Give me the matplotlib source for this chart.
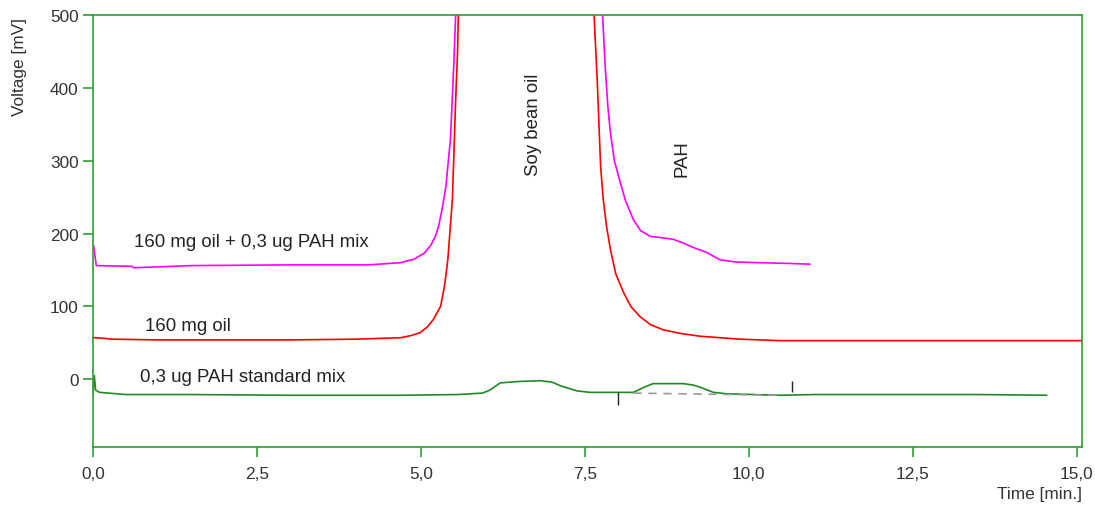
import matplotlib
matplotlib.use("Agg")
import matplotlib.pyplot as plt

plt.rcParams["font.family"] = ["Liberation Sans", "DejaVu Sans"]

# --- data ---
mix_t = [0.0, 0.01, 0.05, 0.6, 0.62, 1.5, 3.0, 4.2, 4.69, 4.9, 5.05, 5.15, 5.22, 5.27, 5.33, 5.38, 5.45, 5.50, 5.53, 5.6,
         7.7, 7.77, 7.81, 7.85, 7.89, 7.95, 8.04, 8.12, 8.24, 8.35, 8.5, 8.7, 8.85, 9.0, 9.15, 9.36, 9.56, 9.8, 10.17, 10.6, 10.93]
mix_v = [183, 183, 156, 155, 153, 156, 157, 157, 160, 165, 173, 184, 196, 210, 237, 264, 329, 429, 500, 900,
         900, 500, 429, 375, 338, 300, 270, 245, 219, 204, 196, 194, 192, 187, 181, 174, 164, 161, 160, 159, 158]

oil_t = [0.0, 0.05, 0.3, 1.0, 2.0, 3.0, 4.0, 4.69, 4.85, 4.99, 5.1, 5.19, 5.30, 5.36, 5.41, 5.48, 5.53, 5.56, 5.57, 5.6,
         7.6, 7.64, 7.69, 7.74, 7.78, 7.83, 7.89, 7.97, 8.09, 8.2, 8.34, 8.5, 8.69, 8.95, 9.26, 9.87, 10.48, 12.0, 15.08]
oil_v = [57, 57, 55, 54, 54, 54, 55, 57, 60, 64, 72, 82, 100, 128, 164, 247, 384, 452, 500, 900,
         900, 500, 407, 292, 247, 210, 178, 145, 119, 100, 86, 75, 68, 63, 59, 55, 53, 53, 53]

std_t = [0.0, 0.02, 0.04, 0.1, 0.5, 1.5, 3.0, 4.69, 5.56, 5.94, 6.05, 6.21, 6.5, 6.82, 7.0, 7.13, 7.38, 7.58, 8.24,
         8.4, 8.54, 9.0, 9.15, 9.26, 9.46, 9.67, 10.48, 11.0, 12.0, 13.5, 14.54]
std_v = [-20, 5, -15, -18, -21, -21, -22, -22, -21, -19, -15, -5, -3, -2, -4, -9, -16, -18, -18,
         -11, -6, -6, -8, -11, -18, -20, -22, -21, -21, -21, -22]

base_t = [8.24, 10.52]
base_v = [-19, -22]
marker_t = [8.0, 10.66]
marker_lo = [-35, -18]
marker_hi = [-18, -2]

labels = ["160 mg oil + 0,3 ug PAH mix", "160 mg oil", "0,3 ug PAH standard mix"]
label_pos = [(0.62, 189), (0.8, 74), (0.72, 4)]
peak_labels = ["Soy bean oil", "PAH"]
peak_pos = [(6.72, 351), (8.98, 304)]

x_ticks = [0.0, 2.5, 5.0, 7.5, 10.0, 12.5, 15.0]
x_ticklabels = ["0,0", "2,5", "5,0", "7,5", "10,0", "12,5", "15,0"]
y_ticks = [0, 100, 200, 300, 400, 500]

# --- figure ---
fig = plt.figure(figsize=(10.95, 5.06), dpi=100)
ax = fig.add_axes([93/1095, 1 - 448/506, (1082-93)/1095, (448-16)/506])

axis_green = "#2e9e2e"
ax.plot(mix_t, mix_v, color="#ff00ff", lw=1.2)
ax.plot(oil_t, oil_v, color="#ff0000", lw=1.2)
ax.plot(std_t, std_v, color="#1f8a1f", lw=1.2)
ax.plot(base_t, base_v, color="#999999", lw=1.2, ls=(0, (5, 4)))
ax.vlines(marker_t, marker_lo, marker_hi, color="#222222", lw=1.0)

ax.set_xlim(0, 15.08)
ax.set_ylim(-93, 500)

for s in ax.spines.values():
    s.set_color(axis_green)
    s.set_linewidth(1.2)

ax.set_xticks(x_ticks)
ax.set_xticklabels(x_ticklabels)
ax.set_yticks(y_ticks)
ax.tick_params(axis="both", direction="out", length=7, width=1.2, color=axis_green,
               labelcolor="#333333", labelsize=12.4)
ax.tick_params(axis="x", pad=7)

for txt, (x, y) in zip(labels, label_pos):
    ax.text(x, y, txt, fontsize=13.4, color="#222222", ha="left", va="center")
for txt, (x, y) in zip(peak_labels, peak_pos):
    ax.text(x, y, txt, fontsize=13.4, color="#222222", ha="center", va="center", rotation=90)

fig.text(20/1095, 1 - 67/506, "Voltage [mV]", rotation=90, fontsize=12.4, color="#333333",
         ha="center", va="center")
fig.text(1082/1095, 1 - 495/506, "Time [min.]", fontsize=12.4, color="#333333",
         ha="right", va="center")

fig.savefig("out.png", dpi=100)
